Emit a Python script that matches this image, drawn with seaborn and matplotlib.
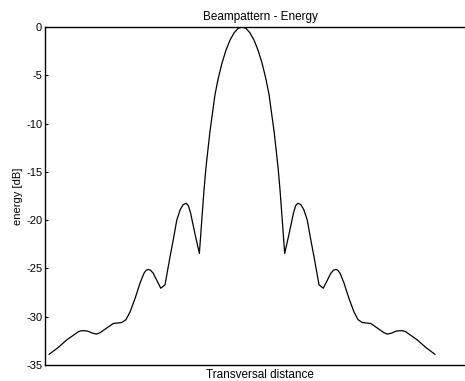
import matplotlib
matplotlib.use("Agg")
import matplotlib.pyplot as plt
import seaborn as sns
import pandas as pd

# Transversal distance (normalised) and beampattern energy in dB
distance = [-1.000, -0.953, -0.908, -0.865, -0.848, -0.831, -0.815, -0.798, -0.775, -0.753,
            -0.735, -0.710, -0.667, -0.623, -0.601, -0.580, -0.554, -0.528, -0.508, -0.497,
            -0.486, -0.473, -0.460, -0.440, -0.421, -0.399, -0.373, -0.355, -0.338, -0.320,
            -0.305, -0.290, -0.278, -0.266, -0.244, -0.221, -0.207, -0.197, -0.187, -0.176,
            -0.166, -0.155, -0.140, -0.124, -0.104, -0.083, -0.062, -0.041, -0.021, 0.000,
            0.021, 0.041, 0.062, 0.083, 0.104, 0.124, 0.140, 0.155, 0.166, 0.176,
            0.187, 0.197, 0.207, 0.221, 0.244, 0.266, 0.278, 0.290, 0.305, 0.320,
            0.338, 0.355, 0.373, 0.399, 0.421, 0.440, 0.460, 0.473, 0.486, 0.497,
            0.508, 0.528, 0.554, 0.580, 0.601, 0.623, 0.667, 0.710, 0.735, 0.753,
            0.775, 0.798, 0.815, 0.831, 0.848, 0.865, 0.908, 0.953, 1.000]
energy_db = [-33.9, -33.2, -32.4, -31.8, -31.55, -31.45, -31.45, -31.5, -31.7, -31.8,
             -31.65, -31.3, -30.7, -30.6, -30.3, -29.5, -28.1, -26.5, -25.5, -25.2,
             -25.1, -25.2, -25.5, -26.3, -27.05, -26.7, -23.8, -21.9, -20.0, -18.9,
             -18.4, -18.25, -18.5, -19.3, -21.4, -23.45, -19.6, -16.9, -14.6, -12.6,
             -10.8, -9.2, -7.0, -5.4, -3.75, -2.4, -1.35, -0.6, -0.15, 0.0,
             -0.15, -0.6, -1.35, -2.4, -3.75, -5.4, -7.0, -9.2, -10.8, -12.6,
             -14.6, -16.9, -19.6, -23.45, -21.4, -19.3, -18.5, -18.25, -18.4, -18.9,
             -20.0, -21.9, -23.8, -26.7, -27.05, -26.3, -25.5, -25.2, -25.1, -25.2,
             -25.5, -26.5, -28.1, -29.5, -30.3, -30.6, -30.7, -31.3, -31.65, -31.8,
             -31.7, -31.5, -31.45, -31.45, -31.55, -31.8, -32.4, -33.2, -33.9]
y_ticks = [0, -5, -10, -15, -20, -25, -30, -35]

df = pd.DataFrame({"distance": distance, "energy": energy_db})

sns.set_theme(style="white")
plt.rcParams["font.family"] = ["Liberation Sans", "DejaVu Sans"]

fig = plt.figure(figsize=(4.65, 3.81), dpi=100)
ax = fig.add_axes([45 / 465, 16 / 381, 430 / 465, 338 / 381])

sns.lineplot(data=df, x="distance", y="energy", ax=ax, color="black", linewidth=0.9,
             sort=False, estimator=None)

ax.set_xlim(-1.0207, 1.207)
ax.set_ylim(-35, 0)
ax.set_yticks(y_ticks)
ax.set_yticklabels([str(t) for t in y_ticks])
ax.set_xticks([])
ax.tick_params(axis="y", direction="in", length=2, width=0.8, pad=2, labelsize=8,
               left=True, colors="black")
for side in ["left", "top", "bottom"]:
    ax.spines[side].set_visible(True)
    ax.spines[side].set_color("black")
    ax.spines[side].set_linewidth(1.0)
ax.spines["right"].set_visible(False)

ax.set_title("Beampattern - Energy", fontsize=8.5, pad=5, color="black")
ax.set_xlabel("Transversal distance", fontsize=8.5, labelpad=3, color="black")
ax.set_ylabel("energy [dB]", fontsize=8, labelpad=2, color="black")

fig.savefig("out.png", dpi=100)
